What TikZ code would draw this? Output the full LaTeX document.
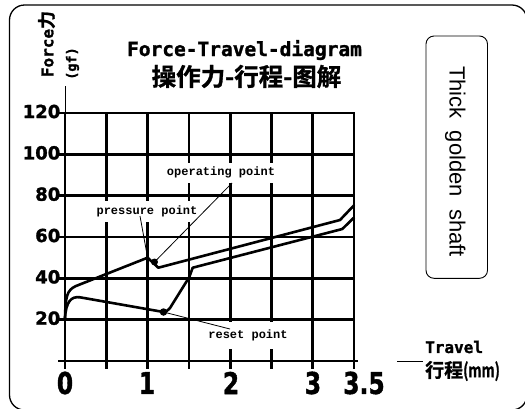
\documentclass[tikz,border=0pt]{standalone}
\usepackage{fontspec}
\newfontfamily\cjkf[FakeBold=1.2]{Noto Sans CJK SC Bold}
\newfontfamily\monof[FakeBold=1.5]{DejaVu Sans Mono Bold}
\newfontfamily\courf{Liberation Mono}
\newfontfamily\arialf{Liberation Sans}
\newfontfamily\numf[FakeBold=1.5]{DejaVu Sans Bold}
\newcommand\fsz[1]{\fontsize{#1}{#1}\selectfont}
\begin{document}
\begin{tikzpicture}[x=1pt,y=-1pt,
  gridline/.style={line width=2.7pt},
  curve/.style={line width=2.6pt,line join=round},
  leader/.style={line width=0.8pt},
  lbl/.style={fill=white,inner xsep=4pt,inner ysep=0pt,minimum height=20pt,font=\courf\bfseries\fsz{12}},
  ynum/.style={anchor=east,inner sep=0pt,font=\numf\fsz{18}},
  xnum/.style={inner sep=0pt,font=\numf\fsz{30}},
  dotmark/.style={fill=black,circle,inner sep=0pt,minimum size=7pt}]
\useasboundingbox (0,0) rectangle (525,408);
% outer frame
\draw[line width=1.3pt,rounded corners=15pt] (9.5,5) rectangle (527,410);
% grid
\foreach \i in {0,...,7} \draw[gridline] ({65+41.3*\i},113) -- ({65+41.3*\i},369);
\foreach \j in {1,...,6} \draw[gridline] (58,{361-41.333*\j}) -- (355,{361-41.333*\j});
\draw[gridline] (58,361) -- (358,361);
\draw[leader,line width=0.6pt] (65,86) -- (65,113);
% y labels
\foreach \v/\j in {20/1,40/2,60/3,80/4,100/5,120/6}
  \node[ynum] (y\v) at (60.5,{361-41.333*\j-1.5}) {\v};
% x labels
\node[xnum] (x0) at (65,383) {\scalebox{0.78}[1]{0}};
\node[xnum] (x1) at (147,383) {\scalebox{0.78}[1]{1}};
\node[xnum] (x2) at (231,383) {\scalebox{0.78}[1]{2}};
\node[xnum] (x3) at (313,383) {\scalebox{0.78}[1]{3}};
\node[xnum] (x35) at (364,383) {\scalebox{0.78}[1]{3.5}};
% axis titles
\node[rotate=90,inner sep=0pt] (fy) at (46.5,44) {{\monof\fsz{16}Force}{\cjkf\fsz{18}力}};
\node[rotate=90,inner sep=0pt,font=\monof\fsz{13.5}] (gf) at (72.5,63.5) {(gf)};
\node[anchor=west,inner sep=0pt,font=\monof\fsz{16}] (tr) at (425,347) {Travel};
\node[anchor=west,inner sep=0pt,font=\cjkf\fsz{19}] (trc) at (425,371) {行程\scalebox{0.72}[1]{(mm)}};
\coordinate (tl1) at (397,361);
\coordinate (tl2) at (423,361);
\draw[leader] (tl1) -- (tl2);
% titles
\node[anchor=base,inner sep=0pt,font=\monof\fsz{19.5}] (t1) at (244.5,56) {Force-Travel-diagram};
\node[inner sep=0pt,font=\cjkf\fsz{24.5}] (t2) at (246.5,76.5) {操作力-行程-图解};
% right box
\draw[line width=0.9pt,rounded corners=8pt] (426,36) rectangle (487.5,278.3);
\node[rotate=-90,anchor=base,inner sep=0pt,font=\arialf\fsz{22}] (shaft) at (449.7,161.6) {Thick\ \ golden\ \ shaft};
% label boxes
\node[lbl] (op) at (221,172.5) {operating point};
\node[lbl,minimum height=21pt] (pp) at (147,211.5) {pressure point};
\node[lbl,inner xsep=10pt,minimum height=27pt] (rp) at (248,335) {reset point};
% curves
\draw[curve] (65,318) .. controls (65.5,296) and (67,290) .. (76,286) -- (147.6,257.7) -- (158.3,267.7) -- (340,220) -- (354.3,205);
\draw[curve] (354.3,217.3) -- (342.3,229) -- (192.7,267.7) -- (189.3,277) -- (170,308) .. controls (167,311) .. (163.5,312) -- (80,297.3) .. controls (71,296) and (66,302) .. (65,318);
% points
\coordinate (ppt) at (147.6,257.7);
\node[dotmark] (opt) at (154.5,262) {};
\node[dotmark,minimum size=7.5pt] (rpt) at (163.5,312) {};
\coordinate (ope) at (232,183);
\coordinate (ppe) at (140,216);
\coordinate (rpe) at (230,329);
\draw[leader] (opt.center) -- (ope);
\draw[leader] (ppt) -- (ppe);
\draw[leader] (rpt.center) -- (rpe);
\end{tikzpicture}
\end{document}
